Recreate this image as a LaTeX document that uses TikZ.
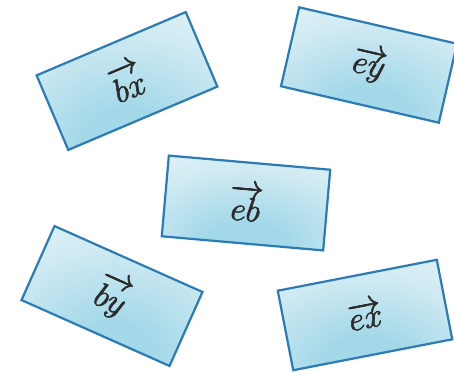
\documentclass[tikz,border=0pt]{standalone}
\usepackage{graphicx}
\usepackage{amsmath}
\definecolor{cardedge}{HTML}{2A7BB6}
\definecolor{cardlight}{HTML}{F0F8FB}
\definecolor{cardmid}{HTML}{D2EBF3}
\definecolor{carddark}{HTML}{A3D8E8}
\definecolor{textgray}{HTML}{2B2B2B}
\pgfdeclareradialshading{cardshade}{\pgfpoint{0bp}{-25bp}}{%
  color(0bp)=(carddark); color(12bp)=(carddark); color(35bp)=(cardmid); color(60bp)=(cardlight); color(100bp)=(cardlight)}
\newcommand{\cardvec}[1]{\special{pdf:literal direct 2 Tr 0.45 w}\scalebox{1.35}{$\overrightarrow{#1}$}\special{pdf:literal direct 0 Tr}}
\tikzset{
  card/.style={draw=cardedge, line width=2.2pt, shading=cardshade,
    minimum width=162pt, minimum height=81pt, inner sep=0pt,
    text=textgray, font=\Huge}
}
\begin{document}
\begin{tikzpicture}[x=1pt,y=-1pt]
\useasboundingbox (0,0) rectangle (454,372);
\node[card, rotate=23]  (bx) at (127,81)  {\cardvec{bx}};
\node[card, rotate=-13] (ey) at (369,65)  {\cardvec{ey}};
\node[card, rotate=-5]  (eb) at (246,203) {\cardvec{eb}};
\node[card, rotate=-24] (by) at (112,296) {\cardvec{by}};
\node[card, rotate=11]  (ex) at (365,315) {\cardvec{ex}};
\end{tikzpicture}
\end{document}
